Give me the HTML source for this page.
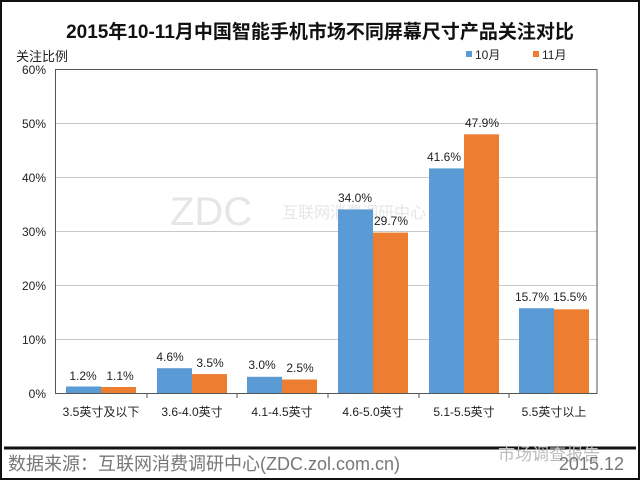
<!DOCTYPE html>
<html><head><meta charset="utf-8"><style>
html,body{margin:0;padding:0;background:#fff}
svg{display:block}
text{font-family:"Liberation Sans","Noto Sans CJK SC",sans-serif}
</style></head><body>
<svg width="640" height="480" xmlns="http://www.w3.org/2000/svg">
<rect x="1" y="1" width="638" height="478" fill="#fff" stroke="#111" stroke-width="2"/>
<text x="320" y="38" text-anchor="middle" font-size="19" font-weight="bold" fill="#111">2015年10-11月中国智能手机市场不同屏幕尺寸产品关注对比</text>
<text x="16" y="61" font-size="13" fill="#222">关注比例</text>
<rect x="466" y="51" width="6" height="6" fill="#5b9bd5"/><text x="475" y="59" font-size="12" fill="#222">10月</text>
<rect x="533" y="51" width="6" height="6" fill="#ed7d31"/><text x="542" y="59" font-size="12" fill="#222">11月</text>
<g stroke="#c8c8c8" stroke-width="1">
<line x1="56" y1="123.5" x2="597" y2="123.5"/><line x1="56" y1="177.5" x2="597" y2="177.5"/><line x1="56" y1="231.5" x2="597" y2="231.5"/><line x1="56" y1="285.5" x2="597" y2="285.5"/><line x1="56" y1="339.5" x2="597" y2="339.5"/>
</g>
<rect x="55.5" y="69.5" width="541.5" height="324" fill="none" stroke="#555" stroke-width="1"/>
<g font-size="12" fill="#222" text-anchor="end">
<text x="46" y="74">60%</text><text x="46" y="128">50%</text><text x="46" y="182">40%</text><text x="46" y="236">30%</text><text x="46" y="290">20%</text><text x="46" y="344">10%</text><text x="46" y="398">0%</text>
</g>
<text x="170" y="225" font-size="40" fill="#e6e6e6" font-family="Liberation Serif,serif">ZDC</text>
<text x="282" y="218" font-size="16" fill="#e6e6e6">互联网消费调研中心</text>
<g>
<rect x="66" y="386.5" width="35" height="6.5" fill="#5b9bd5"/><rect x="101" y="387" width="35" height="6" fill="#ed7d31"/>
<rect x="157" y="368.2" width="35" height="24.8" fill="#5b9bd5"/><rect x="192" y="374.1" width="35" height="18.9" fill="#ed7d31"/>
<rect x="247" y="376.8" width="35" height="16.2" fill="#5b9bd5"/><rect x="282" y="379.5" width="35" height="13.5" fill="#ed7d31"/>
<rect x="338" y="209.4" width="35" height="183.6" fill="#5b9bd5"/><rect x="373" y="232.6" width="35" height="160.4" fill="#ed7d31"/>
<rect x="429" y="168.4" width="35" height="224.6" fill="#5b9bd5"/><rect x="464" y="134.3" width="35" height="258.7" fill="#ed7d31"/>
<rect x="519" y="308.2" width="35" height="84.8" fill="#5b9bd5"/><rect x="554" y="309.3" width="35" height="83.7" fill="#ed7d31"/>
</g>
<g font-size="12" fill="#222" text-anchor="middle">
<text x="83" y="380">1.2%</text><text x="120" y="380">1.1%</text>
<text x="170" y="361">4.6%</text><text x="210" y="367">3.5%</text>
<text x="262" y="369">3.0%</text><text x="300" y="372">2.5%</text>
<text x="355" y="202">34.0%</text><text x="391" y="225">29.7%</text>
<text x="444" y="161">41.6%</text><text x="482" y="127">47.9%</text>
<text x="532" y="301">15.7%</text><text x="570" y="301">15.5%</text>
</g>
<g stroke="#555"><line x1="147" y1="393" x2="147" y2="398"/><line x1="237" y1="393" x2="237" y2="398"/><line x1="328" y1="393" x2="328" y2="398"/><line x1="419" y1="393" x2="419" y2="398"/><line x1="509" y1="393" x2="509" y2="398"/></g>
<g font-size="12" fill="#222" text-anchor="middle">
<text x="101" y="416">3.5英寸及以下</text><text x="192" y="416">3.6-4.0英寸</text><text x="282" y="416">4.1-4.5英寸</text><text x="373" y="416">4.6-5.0英寸</text><text x="464" y="416">5.1-5.5英寸</text><text x="554" y="416">5.5英寸以上</text>
</g>
<line x1="4" y1="448" x2="636" y2="448" stroke="#111" stroke-width="3"/>
<text x="8" y="470" font-size="18" fill="#777">数据来源：互联网消费调研中心(ZDC.zol.com.cn)</text>
<text x="498" y="460" font-size="17" fill="#bbb">市场调查报告</text>
<text x="624" y="470" font-size="18" fill="#777" text-anchor="end">2015.12</text>
</svg>
</body></html>
